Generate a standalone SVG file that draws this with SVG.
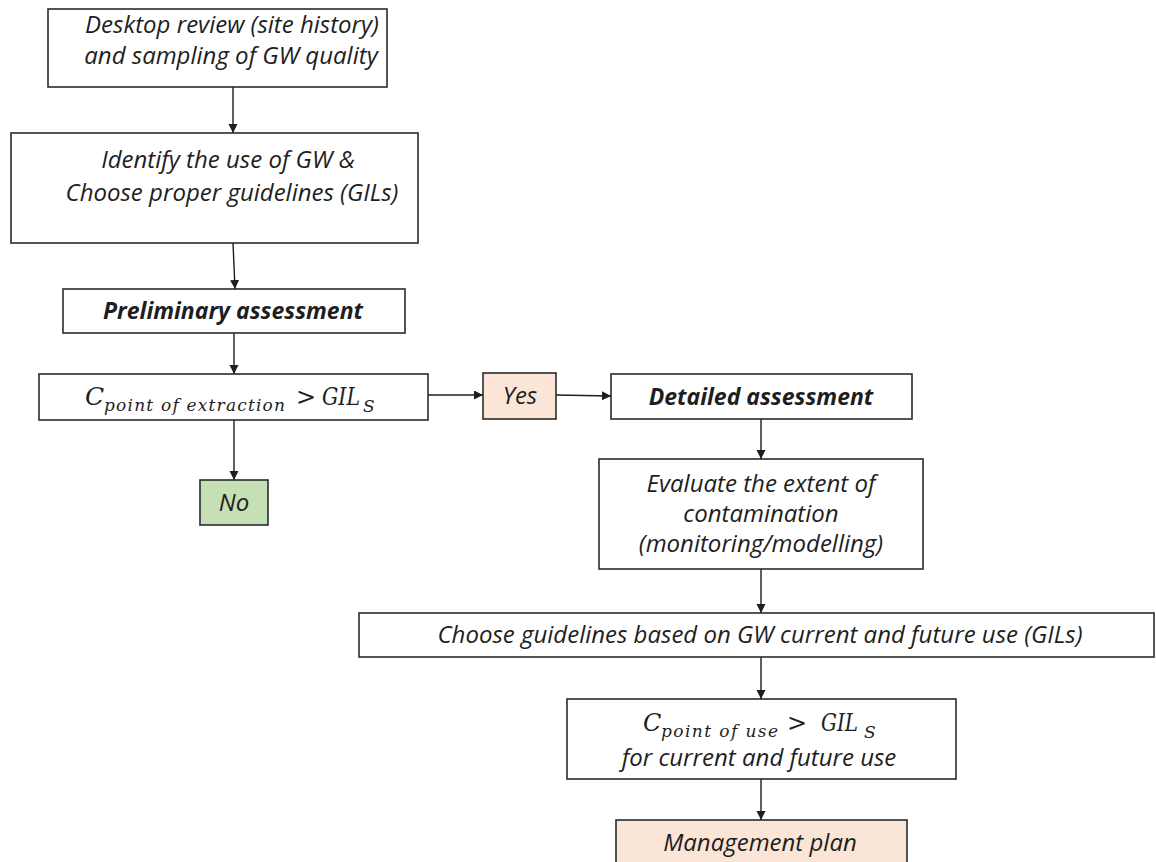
<svg xmlns="http://www.w3.org/2000/svg" width="1156" height="862" viewBox="0 0 1156 862">
  <style>
    .box { fill: #ffffff; stroke: #2b2b2b; stroke-width: 1.6; }
    .yes { fill: #fbe5d6; stroke: #2b2b2b; stroke-width: 1.6; }
    .no { fill: #c5e0b4; stroke: #2b2b2b; stroke-width: 1.6; }
    .t { font-family: "Open Sans", "Liberation Sans", sans-serif; font-style: italic; font-size: 24px; fill: #1e1e1e; text-anchor: middle; }
    .b { font-weight: bold; font-size: 23px; }
    .m { font-family: "DejaVu Serif", "Liberation Serif", serif; font-style: italic; fill: #1e1e1e; }
    .conn { stroke: #1e1e1e; stroke-width: 1.4; fill: none; marker-end: url(#arrow); }
  </style>
  <defs>
    <marker id="arrow" markerUnits="userSpaceOnUse" markerWidth="10" markerHeight="10" refX="9" refY="4.5" orient="auto">
      <path d="M0,0 L9,4.5 L0,9 z" fill="#1e1e1e"/>
    </marker>
  </defs>
  <rect width="1156" height="862" fill="#ffffff"/>

  <!-- connectors -->
  <g id="connectors">
    <line class="conn" x1="233" y1="87" x2="233" y2="133"/>
    <line class="conn" x1="233" y1="243" x2="235" y2="289"/>
    <line class="conn" x1="234" y1="333" x2="234" y2="374"/>
    <line class="conn" x1="234" y1="420" x2="234" y2="480"/>
    <line class="conn" x1="428" y1="395" x2="483" y2="395"/>
    <line class="conn" x1="556" y1="395" x2="611" y2="396"/>
    <line class="conn" x1="761" y1="419" x2="761" y2="459"/>
    <line class="conn" x1="761" y1="569" x2="761" y2="613"/>
    <line class="conn" x1="761" y1="657" x2="761" y2="699"/>
    <line class="conn" x1="761" y1="779" x2="761" y2="820"/>
  </g>

  <!-- desk review -->
  <g id="desktop-review">
    <rect class="box" x="48" y="9" width="339" height="78"/>
    <text class="t" x="232" y="33">Desktop review (site history)</text>
    <text class="t" x="231" y="64">and sampling of GW quality</text>
  </g>

  <g id="identify-use">
    <rect class="box" x="11" y="133" width="407" height="110"/>
    <text class="t" x="228" y="168">Identify the use of GW &amp;</text>
    <text class="t" x="232" y="201">Choose proper guidelines (GILs)</text>
  </g>

  <g id="preliminary">
    <rect class="box" x="63" y="289" width="342" height="44"/>
    <text class="t b" x="233" y="319">Preliminary assessment</text>
  </g>

  <g id="extraction-check">
    <rect class="box" x="39" y="374" width="389" height="46"/>
    <text class="m" x="85" y="405" font-size="25">C</text>
    <text class="m" x="104" y="411" font-size="17" textLength="181" lengthAdjust="spacing">point of extraction</text>
    <text class="m" x="296" y="405" font-size="24" font-style="normal">&gt;</text>
    <text class="m" x="322" y="405" font-size="24" textLength="38" lengthAdjust="spacingAndGlyphs">GIL</text>
    <text class="m" x="363" y="412" font-size="17">S</text>
  </g>

  <g id="yes">
    <rect class="yes" x="483" y="373" width="73" height="46"/>
    <text class="t" x="520" y="404">Yes</text>
  </g>

  <g id="no">
    <rect class="no" x="200" y="480" width="68" height="45"/>
    <text class="t" x="234" y="511">No</text>
  </g>

  <g id="detailed">
    <rect class="box" x="611" y="374" width="301" height="45"/>
    <text class="t b" x="761" y="405">Detailed assessment</text>
  </g>

  <g id="evaluate-extent">
    <rect class="box" x="599" y="459" width="324" height="110"/>
    <text class="t" x="761" y="492">Evaluate the extent of</text>
    <text class="t" x="761" y="522">contamination</text>
    <text class="t" x="761" y="552">(monitoring/modelling)</text>
  </g>

  <g id="choose-guidelines">
    <rect class="box" x="359" y="613" width="795" height="44"/>
    <text class="t" x="760" y="643">Choose guidelines based on GW current and future use (GILs)</text>
  </g>

  <g id="use-check">
    <rect class="box" x="567" y="699" width="389" height="80"/>
    <text class="m" x="643" y="731" font-size="24">C</text>
    <text class="m" x="661" y="737" font-size="17" textLength="117" lengthAdjust="spacing">point of use</text>
    <text class="m" x="787" y="731" font-size="24" font-style="normal">&gt;</text>
    <text class="m" x="821" y="731" font-size="24" textLength="37" lengthAdjust="spacingAndGlyphs">GIL</text>
    <text class="m" x="864" y="738" font-size="17">S</text>
    <text class="t" x="759" y="766">for current and future use</text>
  </g>

  <g id="management-plan">
    <rect class="yes" x="616" y="820" width="291" height="50"/>
    <text class="t" x="760" y="851">Management plan</text>
  </g>
</svg>
